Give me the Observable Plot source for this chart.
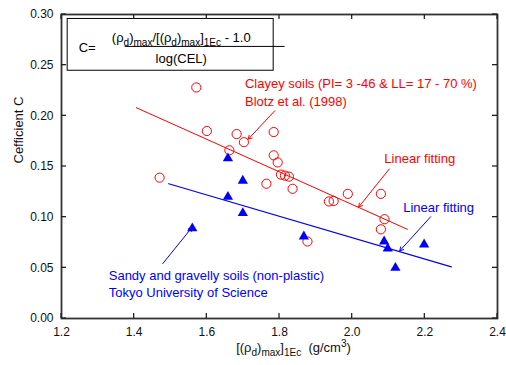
<!DOCTYPE html>
<html><head><meta charset="utf-8">
<script src="https://cdn.jsdelivr.net/npm/d3@7"></script>
<script src="https://cdn.jsdelivr.net/npm/@observablehq/plot@0.6"></script>
<style>body{margin:0;background:#fff} svg{font-family:"Liberation Sans",Arial,sans-serif}</style>
</head><body><div id="chart"></div>
<script>
// Clayey soils (Blotz et al. 1998)
const clayX = [1.470,1.571,1.600,1.662,1.682,1.702,1.764,1.784,1.784,1.795,1.804,1.815,1.826,1.836,1.877,1.936,1.949,1.988,2.079,2.089,2.079];
const clayC = [0.139,0.228,0.185,0.166,0.182,0.174,0.133,0.184,0.161,0.154,0.142,0.141,0.140,0.128,0.076,0.1155,0.116,0.123,0.123,0.098,0.088];
// Sandy and gravelly soils (Tokyo University of Science)
const sandX = [1.560,1.658,1.658,1.699,1.699,1.867,2.088,2.098,2.119,2.198];
const sandC = [0.089,0.158,0.120,0.136,0.104,0.081,0.076,0.069,0.050,0.073];
// linear fits (end points)
const clayFitX = [1.406, 2.152];
const clayFitC = [0.208, 0.088];
const sandFitX = [1.495, 2.273];
const sandFitC = [0.133, 0.051];
// ticks
const xTicks = [1.2,1.4,1.6,1.8,2.0,2.2,2.4];
const yTicks = [0,0.05,0.10,0.15,0.20,0.25,0.30];
// texts
const yLabel = "Cefficient C";
const xLabel = "[(ρd)max]1Ec  (g/cm3)";
const clayLabel = ["Clayey soils (PI= 3 -46 & LL= 17 - 70 %)", "Blotz et al. (1998)"];
const sandLabel = ["Sandy and gravelly soils (non-plastic)", "Tokyo University of Science"];
const fitLabel = "Linear fitting";
const formulaLeft = "C=";
const formulaNum = "(ρd)max/[(ρd)max]1Ec - 1.0";
const formulaDen = "log(CEL)";

const RED = "#ff0000", BLUE = "#0000ff";
const clay = clayX.map((x,i)=>({x, c: clayC[i]}));
const sand = sandX.map((x,i)=>({x, c: sandC[i]}));
const clayFit = clayFitX.map((x,i)=>({x, c: clayFitC[i]}));
const sandFit = sandFitX.map((x,i)=>({x, c: sandFitC[i]}));

// annotation anchors (data coordinates)
const box = [{x1:1.217, x2:1.784, y1:0.2445, y2:0.2956}];
const fracLine = [{x1:1.3755, x2:1.8154, y:0.2685}];
const arrows = [
  {x1:1.787, y1:0.205, x2:1.714, y2:0.177, s:RED},
  {x1:2.102, y1:0.1475, x2:2.018, y2:0.110, s:RED},
  {x1:2.216, y1:0.1004, x2:2.131, y2:0.0668, s:BLUE},
  {x1:1.479, y1:0.0543, x2:1.559, y2:0.0898, s:BLUE}
];
const texts = [
  {x:1.705, y:0.2314, t:clayLabel[0], s:RED},
  {x:1.705, y:0.2142, t:clayLabel[1], s:RED},
  {x:2.0885, y:0.1574, t:fitLabel, s:RED},
  {x:2.1406, y:0.1096, t:fitLabel, s:BLUE},
  {x:1.330, y:0.0422, t:sandLabel[0], s:BLUE},
  {x:1.330, y:0.0253, t:sandLabel[1], s:BLUE},
  {x:1.2474, y:0.2675, t:formulaLeft, s:"#000"}
];
const centerTexts = [
  {x:1.5296, y:0.2771, t:formulaNum},
  {x:1.5296, y:0.2564, t:formulaDen}
];

const W = 506, H = 365, ML = 61, MR = 9, MT = 14, MB = 47, TL = 5;
const tickSpec = [
  ...xTicks.map(v => ({x: v, y: 0, a: 0})),
  ...xTicks.map(v => ({x: v, y: 0.30, a: 180})),
  ...yTicks.map(v => ({x: 1.2, y: v, a: 90})),
  ...yTicks.map(v => ({x: 2.4, y: v, a: -90}))
];

const plot = Plot.plot({
  width: W, height: H,
  marginLeft: ML, marginRight: MR, marginTop: MT, marginBottom: MB,
  style: {fontFamily: '"Liberation Sans", Arial, sans-serif', fontSize: "12px", color: "#111", background: "#fff"},
  x: {domain: [1.2, 2.4]},
  y: {domain: [0, 0.30]},
  marks: [
    Plot.axisX({ticks: xTicks, tickSize: 0, tickPadding: 9, tickFormat: d3.format(".1f"), label: null, fontSize: 12}),
    Plot.axisY({ticks: yTicks, tickSize: 0, tickPadding: 8, tickFormat: d3.format(".2f"), label: null, fontSize: 12}),
    Plot.frame({stroke: "#333", strokeWidth: 1.8}),
    Plot.text([yLabel], {frameAnchor: "left", rotate: -90, dx: -43, dy: -3, fontSize: 13}),
    Plot.text([xLabel], {frameAnchor: "bottom", dy: 33, dx: 14, fontSize: 13}),
    Plot.rect(box, {x1:"x1", x2:"x2", y1:"y1", y2:"y2", fill: "#fff", stroke: "#000", strokeWidth: 1}),
    Plot.ruleY(fracLine, {x1:"x1", x2:"x2", y:"y", stroke:"#000", strokeWidth: 1}),
    Plot.line(clayFit, {x:"x", y:"c", stroke: RED, strokeWidth: 1}),
    Plot.line(sandFit, {x:"x", y:"c", stroke: BLUE, strokeWidth: 1.2}),
    Plot.dot(clay, {x:"x", y:"c", r: 4.6, stroke: RED, strokeWidth: 1, fill: "none"}),
    Plot.dot(sand, {x:"x", y:"c", r: 3.8, symbol: "triangle", fill: BLUE, stroke: "none"}),
    Plot.arrow(arrows, {x1:"x1", y1:"y1", x2:"x2", y2:"y2", stroke:"s", strokeWidth: 1, headLength: 6}),
    Plot.text(texts, {x:"x", y:"y", text:"t", fill:"s", textAnchor:"start", fontSize: 13}),
    Plot.text(centerTexts, {x:"x", y:"y", text:"t", fill:"#000", textAnchor:"middle", fontSize: 13})
  ]
});
document.getElementById("chart").appendChild(plot);

// inward tick marks on all four sides, positioned by Plot's own scales
const sx = plot.scale("x"), sy = plot.scale("y");
const svg = d3.select(plot);
const tg = svg.append("g").attr("stroke", "#222").attr("stroke-width", 1.3);
for (const t of tickSpec) {
  const px = sx.apply(t.x), py = sy.apply(t.y);
  const r = t.a * Math.PI / 180;
  tg.append("line")
    .attr("x1", px).attr("y1", py)
    .attr("x2", px + TL * Math.sin(r)).attr("y2", py - TL * Math.cos(r));
}

// rich text with subscripts/superscripts
function rich(str, parts) {
  svg.selectAll("text").filter(function(){ return this.textContent === str; }).each(function(){
    const el = d3.select(this);
    el.text(null);
    let shift = 0;
    for (const [t, kind] of parts) {
      const target = kind === "sub" ? 4 : kind === "sup" ? -5 : 0;
      const ts = el.append("tspan").attr("dy", target - shift).text(t);
      if (kind) ts.attr("font-size", "10px");
      shift = target;
    }
    if (shift) el.append("tspan").attr("dy", -shift).text("\u200b");
  });
}
rich(xLabel, [["[(ρ"],["d","sub"],[")"],["max","sub"],["]"],["1Ec","sub"],["  (g/cm"],["3","sup"],[")"]]);
rich(formulaNum, [["(ρ"],["d","sub"],[")"],["max","sub"],["/[(ρ"],["d","sub"],[")"],["max","sub"],["]"],["1Ec","sub"],[" - 1.0"]]);
</script></body></html>
